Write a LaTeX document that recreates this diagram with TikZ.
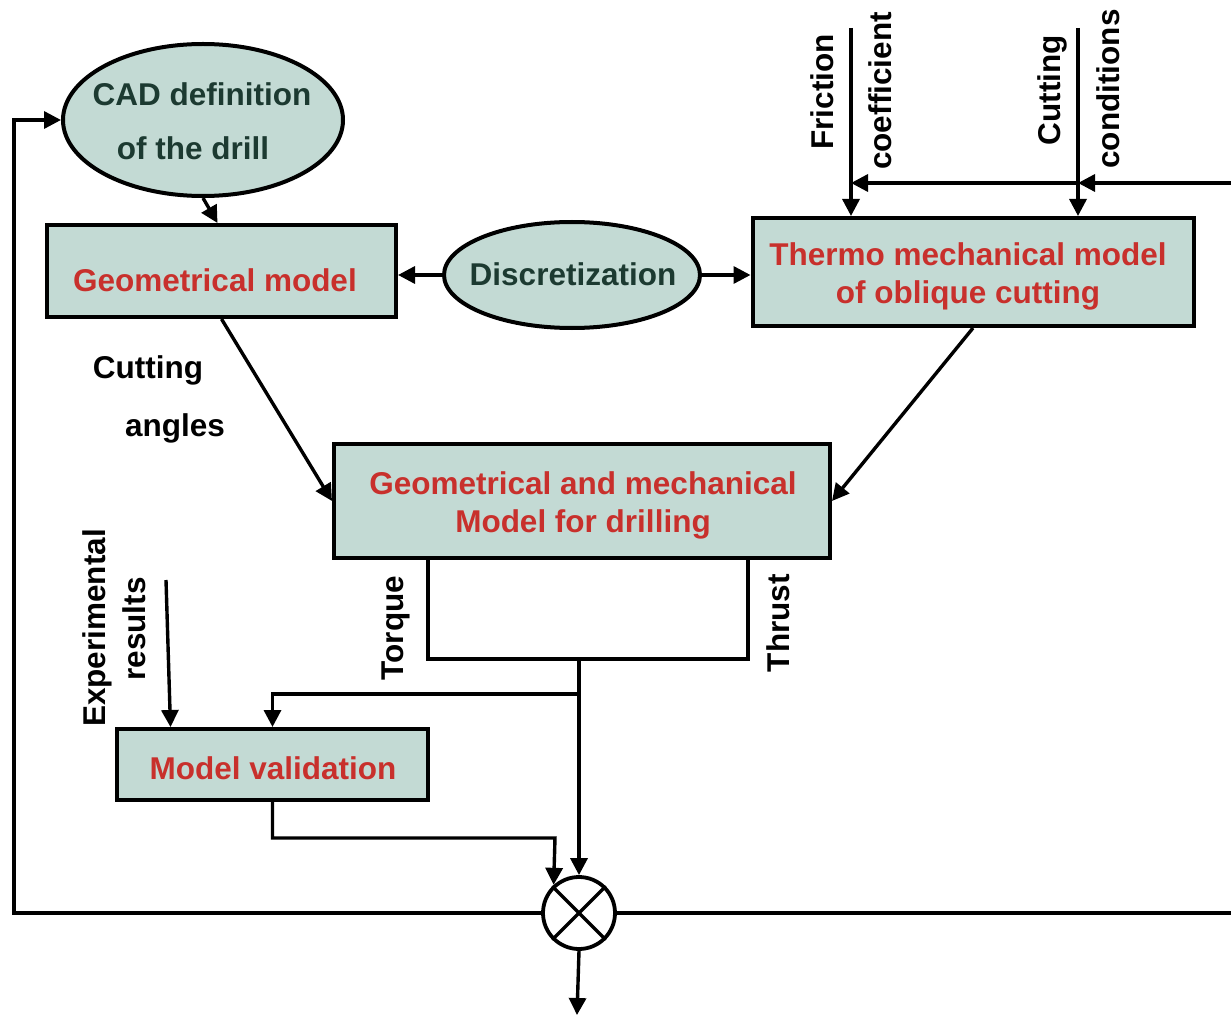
\documentclass[tikz,border=0pt]{standalone}
\usepackage{fontspec}
\setmainfont{Liberation Sans}
\usetikzlibrary{arrows.meta,shapes.geometric}
\definecolor{boxfill}{HTML}{C3DAD4}
\definecolor{redtxt}{HTML}{C8302C}
\definecolor{darktxt}{HTML}{1C3A31}
\begin{document}
\begin{tikzpicture}[x=1pt,y=-1pt,
  every node/.style={font=\fontsize{31.5pt}{38pt}\selectfont\bfseries},
  blockbox/.style={draw=black,line width=4pt,fill=boxfill,inner sep=0pt,text=redtxt,align=center},
  ovalbox/.style={ellipse,draw=black,line width=4pt,fill=boxfill,inner sep=0pt},
  lbl/.style={text=black,inner sep=0pt},
  vlbl/.style={text=black,inner sep=0pt,rotate=90},
  wire/.style={line width=3.4pt,line join=miter},
  arr/.style={wire,-{Triangle[length=17pt,width=17pt]}}]
\useasboundingbox (0,0) rectangle (1231,1016);
% nodes
\node[ovalbox,minimum width=280pt,minimum height=152pt] (cad) at (203,120) {};
\node[text=darktxt,inner sep=0pt] (cadt1) at (202,94) {CAD definition};
\node[text=darktxt,inner sep=0pt] (cadt2) at (193,148) {of the drill};
\node[blockbox,minimum width=349pt,minimum height=92pt] (geo) at (221.5,271) {};
\node[text=redtxt,inner sep=0pt] (geot) at (215,280) {Geometrical model};
\node[ovalbox,minimum width=256pt,minimum height=106pt] (disc) at (572,275) {};
\node[text=darktxt,inner sep=0pt] (disct) at (573,274) {Discretization};
\node[blockbox,minimum width=441pt,minimum height=108pt] (thermo) at (973,272) {};
\node[text=redtxt,align=center,inner sep=0pt] (thermot) at (968,276) {Thermo mechanical model\\of oblique cutting};
\node[blockbox,minimum width=496pt,minimum height=114pt] (gm) at (582,501) {};
\node[text=redtxt,align=center,inner sep=0pt] (gmt) at (583,505) {Geometrical and mechanical\\Model for drilling};
\node[blockbox,minimum width=311pt,minimum height=71pt] (mv) at (272.5,764.5) {};
\node[text=redtxt,inner sep=0pt] (mvt) at (273,768) {Model validation};
\node[circle,draw=black,line width=3.8pt,fill=white,minimum size=72pt,inner sep=0pt] (mul) at (579,913) {};
\draw[line width=3.4pt] (mul.45) -- (mul.225) (mul.135) -- (mul.315);
% labels
\node[lbl] (ca1) at (148,370) {Cutting};
\node[lbl] (ca2) at (175,428) {angles};
\node[vlbl] (fr1) at (822,92) {Friction};
\node[vlbl] (fr2) at (880,91) {coefficient};
\node[vlbl] (cc1) at (1052,90) {Cutting};
\node[vlbl] (cc2) at (1108,89) {conditions};
\node[vlbl] (tqt) at (396,628) {Torque};
\node[vlbl] (tht) at (778,623) {Thrust};
\node[vlbl] (ex1) at (97,628) {Experimental};
\node[vlbl] (ex2) at (134,629) {results};
% coordinates
\coordinate (fr) at (851,28);
\coordinate (cc) at (1078,28);
\coordinate (rin) at (1231,183);
\coordinate (rout) at (1231,913);
\coordinate (lb) at (14,913);
\coordinate (tq) at (428,659);
\coordinate (th) at (748,659);
\coordinate (j1) at (579,659);
\coordinate (j2) at (579,694);
\coordinate (exs) at (166,580);
\coordinate (mvc) at (555,838);
\coordinate (out) at (577,1015);
% connectors
\draw[arr] (cad.south) -- ([xshift=-4pt]geo.north);
\draw[arr] (disc.west) -- (disc.west -| geo.east);
\draw[arr] (disc.east) -- (disc.east -| thermo.west);
\draw[arr] (geo.south) -- (gm.west);
\draw[arr] (thermo.south) -- (gm.east);
\draw[arr] (fr) -- (fr |- thermo.north);
\draw[arr] (cc) -- (cc |- thermo.north);
\draw[arr] (rin) -- (rin -| cc);
\draw[arr] (rin -| cc) -- (rin -| fr);
\draw[wire] (tq |- gm.south) -- (tq) -- (th) -- (th |- gm.south);
\draw[arr] (j1) -- (mul.north);
\draw[arr] (j2) -| (mv.north);
\draw[arr] (exs) -- ([xshift=-102pt]mv.north);
\draw[arr] (mv.south) |- (mvc) -- (mul.132);
\draw[arr] (mul.west) -- (lb) |- (cad.west);
\draw[wire] (mul.east) -- (rout);
\draw[arr] (mul.south) -- (out);
\end{tikzpicture}
\end{document}
